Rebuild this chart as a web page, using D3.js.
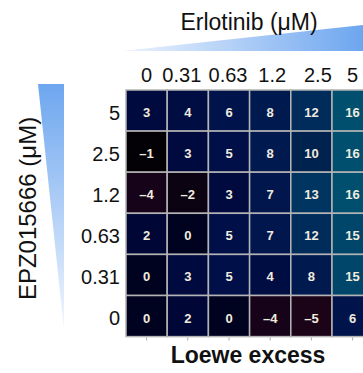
<!DOCTYPE html>
<html>
<head>
<meta charset="utf-8">
<script src="https://cdn.jsdelivr.net/npm/d3@7"></script>
<style>
  html, body { margin: 0; padding: 0; background: #fff; }
  svg { display: block; font-family: "Liberation Sans", Arial, Helvetica, sans-serif; }
</style>
</head>
<body>
<svg id="chart" width="363" height="373"></svg>
<script>
// ---- data ----
const erlotinib = ["0", "0.31", "0.63", "1.2", "2.5", "5"];          // columns
const epz = ["5", "2.5", "1.2", "0.63", "0.31", "0"];                // rows, top to bottom
const row_5    = [3, 4, 6, 8, 12, 16];
const row_2_5  = [-1, 3, 5, 8, 10, 16];
const row_1_2  = [-4, -2, 3, 7, 13, 16];
const row_0_63 = [2, 0, 5, 7, 12, 15];
const row_0_31 = [0, 3, 5, 4, 8, 15];
const row_0    = [0, 2, 0, -4, -5, 6];
const rows = [row_5, row_2_5, row_1_2, row_0_63, row_0_31, row_0];

// colour scale stops
const colorDomain = [-5, -4, -2, -1, 0, 2, 3, 5, 8, 10, 12, 16];
const colorRange  = ["#1c0418", "#16031a", "#0c0312", "#030006", "#000320", "#000736",
                     "#000a3e", "#000f48", "#001a50", "#00224f", "#002c5c", "#004f6e"];

// horizontal nudges of the column labels (layout only)
const colLabelShift = { "0": 0, "0.31": -6, "0.63": -1, "1.2": 2, "2.5": 6.5, "5": 0 };

const cells = [];
rows.forEach((r, i) => r.forEach((v, j) => cells.push({ row: epz[i], col: erlotinib[j], v })));

const svg = d3.select("#chart");

// ---- scales ----
const x = d3.scaleBand().domain(erlotinib).range([126, 126 + 41.2 * 6]);
const y = d3.scaleBand().domain(epz).range([90, 336.6]);
const color = d3.scaleLinear().domain(colorDomain).range(colorRange).clamp(true);

// ---- wedges ----
const defs = svg.append("defs");
const gh = defs.append("linearGradient").attr("id", "gh").attr("x1", "0").attr("x2", "1").attr("y1", "0").attr("y2", "0");
gh.append("stop").attr("offset", "0").attr("stop-color", "#eef4fd");
gh.append("stop").attr("offset", "1").attr("stop-color", "#6da6ef");
const gv = defs.append("linearGradient").attr("id", "gv").attr("x1", "0").attr("x2", "0").attr("y1", "0").attr("y2", "1");
gv.append("stop").attr("offset", "0").attr("stop-color", "#6da6ef");
gv.append("stop").attr("offset", "1").attr("stop-color", "#f2f7fe");

svg.append("path").attr("d", "M122,51 L363,25 L363,51 Z").attr("fill", "url(#gh)");
svg.append("path").attr("d", "M38,84 L64,84 L64,330 Z").attr("fill", "url(#gv)");

// ---- titles ----
svg.append("text").attr("x", 249).attr("y", 30).attr("text-anchor", "middle")
  .style("font-size", "23px").attr("fill", "#111").text("Erlotinib (μM)");
svg.append("text").attr("transform", "translate(36,208.5) rotate(-90)").attr("text-anchor", "middle")
  .style("font-size", "24px").attr("fill", "#111").text("EPZ015666 (μM)");
svg.append("text").attr("x", 248).attr("y", 363).attr("text-anchor", "middle")
  .style("font-size", "23px").style("font-weight", "bold").attr("fill", "#111").text("Loewe excess");

// ---- cells ----
const g = svg.append("g");
g.selectAll("rect").data(cells).join("rect")
  .attr("x", d => x(d.col)).attr("y", d => y(d.row))
  .attr("width", x.bandwidth()).attr("height", y.bandwidth())
  .attr("fill", d => color(d.v))
  .attr("stroke", "#b4b4b4").attr("stroke-width", 1.5);

g.selectAll("text").data(cells).join("text")
  .attr("x", d => x(d.col) + x.bandwidth() / 2)
  .attr("y", d => y(d.row) + y.bandwidth() / 2)
  .attr("dy", "0.5em")
  .attr("text-anchor", "middle")
  .style("font-size", "13px").style("font-weight", "bold")
  .attr("fill", "#f1ebdf")
  .text(d => d.v < 0 ? "–" + Math.abs(d.v) : String(d.v));

// ---- axes ----
const axTop = svg.append("g").attr("transform", "translate(0,90)")
  .call(d3.axisTop(x).tickSize(0).tickPadding(8));
axTop.select(".domain").remove();
axTop.selectAll("text").style("font-size", "20px").style("font-family", "inherit").attr("fill", "#111")
  .attr("dx", d => colLabelShift[d]);

const axLeft = svg.append("g").attr("transform", "translate(126,0)")
  .call(d3.axisLeft(y).tickSize(0).tickPadding(6));
axLeft.select(".domain").remove();
axLeft.selectAll("text").style("font-size", "20px").style("font-family", "inherit").attr("fill", "#111").attr("dy", "0.45em");

const axBottom = svg.append("g").attr("transform", "translate(0,337.5)")
  .call(d3.axisBottom(x).tickSize(3).tickFormat(""));
axBottom.select(".domain").remove();
axBottom.selectAll("line").attr("stroke", "#aaa");
</script>
</body>
</html>
